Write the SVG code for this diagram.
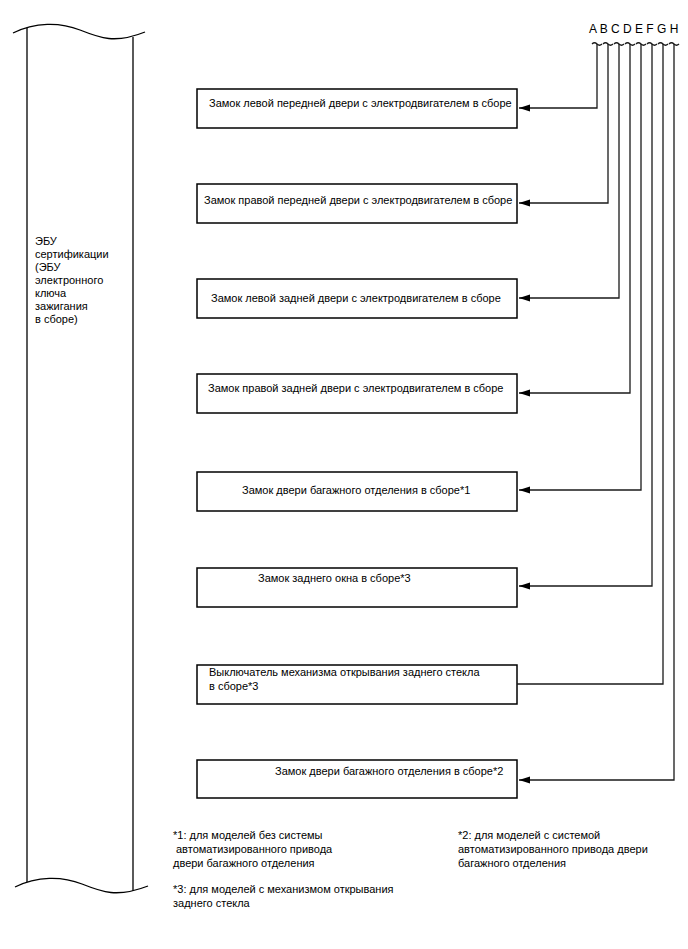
<svg xmlns="http://www.w3.org/2000/svg" width="688" height="949" viewBox="0 0 688 949">
<style>
text{font-family:"Liberation Sans",Arial,sans-serif;font-size:11px;fill:#000}
.box{fill:#fff;stroke:#000;stroke-width:1.5}
.ln{fill:none;stroke:#1a1a1a;stroke-width:1.3}
.ecu{fill:none;stroke:#000;stroke-width:1.3}
</style>
<defs>
<marker id="arr" markerUnits="userSpaceOnUse" markerWidth="12" markerHeight="8" refX="11" refY="3.5" orient="auto">
<path d="M0,0 L11,3.5 L0,7 z" fill="#000"/>
</marker>
</defs>
<rect width="688" height="949" fill="#fff"/>

<g id="ecu">
<path class="ecu" d="M13,33 C35,22 60,22 80,30 S115,44 145,32"/>
<path class="ecu" d="M15,887 C37,876 62,876 82,884 S117,898 148,886"/>
<line class="ecu" x1="27" y1="28" x2="27" y2="882"/>
<line class="ecu" x1="133" y1="37" x2="133" y2="891"/>
<text x="35" y="245">ЭБУ</text>
<text x="35" y="258">сертификации</text>
<text x="35" y="271">(ЭБУ</text>
<text x="35" y="284">электронного</text>
<text x="35" y="297">ключа</text>
<text x="35" y="310">зажигания</text>
<text x="35" y="323">в сборе)</text>
</g>

<g id="pins">
<text x="589" y="33" style="font-size:12px">A B C D E F G H</text>
</g>

<g id="box1"><rect class="box" x="197" y="89" width="320" height="39"/><text x="209" y="107">Замок левой передней двери с электродвигателем в сборе</text></g>
<g id="box2"><rect class="box" x="197" y="184" width="320" height="39"/><text x="204" y="204">Замок правой передней двери с электродвигателем в сборе</text></g>
<g id="box3"><rect class="box" x="197" y="279" width="320" height="39"/><text x="211" y="302">Замок левой задней двери с электродвигателем в сборе</text></g>
<g id="box4"><rect class="box" x="197" y="374" width="320" height="39"/><text x="208" y="392">Замок правой задней двери с электродвигателем в сборе</text></g>
<g id="box5"><rect class="box" x="197" y="472" width="320" height="39"/><text x="242" y="494">Замок двери багажного отделения в сборе*1</text></g>
<g id="box6"><rect class="box" x="197" y="568" width="320" height="39"/><text x="258" y="582">Замок заднего окна в сборе*3</text></g>
<g id="box7"><rect class="box" x="197" y="665" width="320" height="39"/><text x="209" y="676">Выключатель механизма открывания заднего стекла</text><text x="209" y="690">в сборе*3</text></g>
<g id="box8"><rect class="box" x="197" y="760" width="320" height="38"/><text x="275" y="775">Замок двери багажного отделения в сборе*2</text></g>

<g id="connectors">
<path class="ln" d="M592,44 q2.5,-2.5 5,0 t5,0 M603,44 q2.5,-2.5 5,0 t5,0 M614,44 q2.5,-2.5 5,0 t5,0 M625,44 q2.5,-2.5 5,0 t5,0 M636,44 q2.5,-2.5 5,0 t5,0 M647,44 q2.5,-2.5 5,0 t5,0 M658,44 q2.5,-2.5 5,0 t5,0 M669,44 q2.5,-2.5 5,0 t5,0"/>
<path class="ln" d="M597,44 V108 H519" marker-end="url(#arr)"/>
<path class="ln" d="M608,44 V203 H519" marker-end="url(#arr)"/>
<path class="ln" d="M619,44 V298 H519" marker-end="url(#arr)"/>
<path class="ln" d="M630,44 V393 H519" marker-end="url(#arr)"/>
<path class="ln" d="M641,44 V490 H519" marker-end="url(#arr)"/>
<path class="ln" d="M652,44 V586 H519" marker-end="url(#arr)"/>
<path class="ln" d="M663,44 V684 H517"/>
<path class="ln" d="M674,44 V780 H519" marker-end="url(#arr)"/>
</g>

<g id="notes">
<text x="173" y="839">*1: для моделей без системы</text>
<text x="176" y="853">автоматизированного привода</text>
<text x="173" y="867">двери багажного отделения</text>
<text x="458" y="839">*2: для моделей с системой</text>
<text x="458" y="853">автоматизированного привода двери</text>
<text x="458" y="867">багажного отделения</text>
<text x="173" y="893">*3: для моделей с механизмом открывания</text>
<text x="173" y="907">заднего стекла</text>
</g>
</svg>
